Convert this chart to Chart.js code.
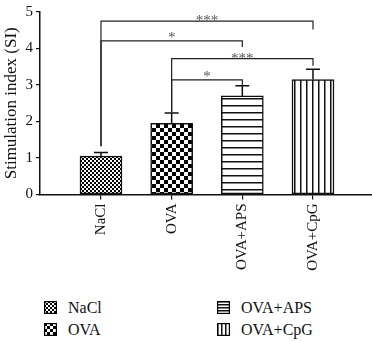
<!DOCTYPE html>
<html>
<head>
<meta charset="utf-8">
<script src="https://cdn.jsdelivr.net/npm/chart.js@4"></script>
<style>
  html, body { margin: 0; padding: 0; background: #fff; }
  #wrap { position: relative; width: 372px; height: 341px; }
  #box { position: absolute; left: 0; top: 0; width: 372px; height: 285px; }
  .leg { position: absolute; font-family: "Liberation Serif", "DejaVu Serif", serif; font-size: 16px; color: #111; line-height: 16px; }
  .leg canvas { position: absolute; left: 0; top: 1px; }
  .leg span { position: absolute; left: 24px; top: 0; white-space: nowrap; }
</style>
</head>
<body>
<div id="wrap">
  <div id="box"><canvas id="chart"></canvas></div>
  <div class="leg" style="left:44px;top:300px"><canvas id="sw0" width="13" height="13"></canvas><span>NaCl</span></div>
  <div class="leg" style="left:44px;top:322px"><canvas id="sw1" width="13" height="13"></canvas><span>OVA</span></div>
  <div class="leg" style="left:217px;top:300px"><canvas id="sw2" width="13" height="13"></canvas><span>OVA+APS</span></div>
  <div class="leg" style="left:217px;top:322px"><canvas id="sw3" width="13" height="13"></canvas><span>OVA+CpG</span></div>
</div>
<script>
// data
const categories = ["NaCl", "OVA", "OVA+APS", "OVA+CpG"];
const means = [1.05, 1.95, 2.70, 3.15];
const errors = [0.10, 0.28, 0.28, 0.28];
const yTicks = [0, 1, 2, 3, 4, 5];

// significance brackets
const bracketFrom = [0, 0, 1, 1];
const bracketTo = [3, 2, 3, 2];
const bracketY = [4.75, 4.21, 3.72, 3.14];
const bracketLeftEnd = [1.32, 1.32, 2.25, 2.25];
const bracketRightEnd = [4.52, 4.04, 3.53, 2.97];
const bracketLabel = ["***", "*", "***", "*"];

const serif = '"Liberation Serif", "DejaVu Serif", serif';

// fill patterns
function makePattern(kind, s) {
  const c = document.createElement("canvas");
  const g = c.getContext("2d");
  if (kind === "check") {
    c.width = c.height = s * 2;
    g.fillStyle = "#fff";
    g.fillRect(0, 0, s * 2, s * 2);
    g.fillStyle = "#000";
    g.fillRect(0, 0, s, s);
    g.fillRect(s, s, s, s);
  } else if (kind === "hlines") {
    c.width = c.height = s;
    g.fillStyle = "#fff";
    g.fillRect(0, 0, s, s);
    g.fillStyle = "#111";
    g.fillRect(0, 0, s, 1.5);
  } else {
    c.width = c.height = s;
    g.fillStyle = "#fff";
    g.fillRect(0, 0, s, s);
    g.fillStyle = "#111";
    g.fillRect(0, 0, 1.5, s);
  }
  return g.createPattern(c, "repeat");
}

const ctx = document.getElementById("chart").getContext("2d");
const fills = [
  makePattern("check", 2),
  makePattern("check", 4),
  makePattern("hlines", 7),
  makePattern("vlines", 6)
];

// legend swatches
const swFills = [
  makePattern("check", 2),
  makePattern("check", 3),
  makePattern("hlines", 3),
  makePattern("vlines", 4)
];
for (let i = 0; i < 4; i++) {
  const g = document.getElementById("sw" + i).getContext("2d");
  g.fillStyle = swFills[i];
  g.fillRect(0, 0, 13, 13);
  g.strokeStyle = "#000";
  g.lineWidth = 1.2;
  g.strokeRect(0.6, 0.6, 11.8, 11.8);
}

const errorBars = {
  id: "errorBars",
  afterDatasetsDraw(chart) {
    const g = chart.ctx;
    const y = chart.scales.y;
    const meta = chart.getDatasetMeta(0);
    g.save();
    g.strokeStyle = "#111";
    g.lineWidth = 1.5;
    meta.data.forEach((bar, i) => {
      const top = y.getPixelForValue(means[i] + errors[i]);
      g.beginPath();
      g.moveTo(bar.x, bar.y);
      g.lineTo(bar.x, top);
      g.moveTo(bar.x - 7, top);
      g.lineTo(bar.x + 7, top);
      g.stroke();
    });
    g.restore();
  }
};

const brackets = {
  id: "brackets",
  afterDatasetsDraw(chart) {
    const g = chart.ctx;
    const x = chart.scales.x;
    const y = chart.scales.y;
    g.save();
    g.strokeStyle = "#222";
    g.lineWidth = 1.2;
    g.fillStyle = "#555";
    g.font = "15px " + serif;
    g.textAlign = "center";
    g.textBaseline = "alphabetic";
    for (let i = 0; i < bracketY.length; i++) {
      const x1 = x.getPixelForValue(bracketFrom[i]);
      const x2 = x.getPixelForValue(bracketTo[i]);
      const yy = y.getPixelForValue(bracketY[i]);
      g.beginPath();
      g.moveTo(x1, y.getPixelForValue(bracketLeftEnd[i]));
      g.lineTo(x1, yy);
      g.lineTo(x2, yy);
      g.lineTo(x2, y.getPixelForValue(bracketRightEnd[i]));
      g.stroke();
      const off = bracketLabel[i].length > 1 ? 4 : 7;
      g.fillText(bracketLabel[i], (x1 + x2) / 2, yy - off + 8);
    }
    g.restore();
  }
};

new Chart(ctx, {
  type: "bar",
  data: {
    datasets: [{
      data: categories.map((c, i) => ({ x: i, y: means[i] })),
      backgroundColor: fills,
      borderColor: "#111",
      borderWidth: 1.5,
      borderSkipped: false,
      barThickness: 42
    }]
  },
  options: {
    responsive: true,
    maintainAspectRatio: false,
    animation: false,
    layout: { padding: { top: 7, right: 0, left: 0, bottom: 0 } },
    plugins: { legend: { display: false }, tooltip: { enabled: false } },
    scales: {
      x: {
        type: "linear",
        offset: false,
        min: -0.863,
        max: 3.835,
        afterBuildTicks: (s) => { s.ticks = categories.map((c, i) => ({ value: i })); },
        afterFit: (s) => { s.height = 90.5; },
        grid: { display: true, offset: false, drawOnChartArea: false, tickLength: 5, color: "#111", lineWidth: 1.2 },
        border: { color: "#111", width: 1.5 },
        ticks: {
          autoSkip: false,
          minRotation: 90,
          maxRotation: 90,
          padding: 4,
          color: "#111",
          font: { family: serif, size: 15 },
          callback: (v) => categories[v]
        }
      },
      y: {
        min: 0,
        max: 5,
        afterBuildTicks: (s) => { s.ticks = yTicks.map(v => ({ value: v })); },
        afterFit: (s) => { s.width = 40; },
        grid: { display: true, drawOnChartArea: false, tickLength: 4, color: "#111", lineWidth: 1.2 },
        border: { color: "#111", width: 1.5 },
        ticks: {
          padding: 3,
          color: "#111",
          font: { family: serif, size: 15 }
        },
        title: {
          display: true,
          text: "Stimulation index (SI)",
          color: "#111",
          font: { family: serif, size: 17 },
          padding: { top: 1, bottom: 0 }
        }
      }
    }
  },
  plugins: [errorBars, brackets]
});
</script>
</body>
</html>
